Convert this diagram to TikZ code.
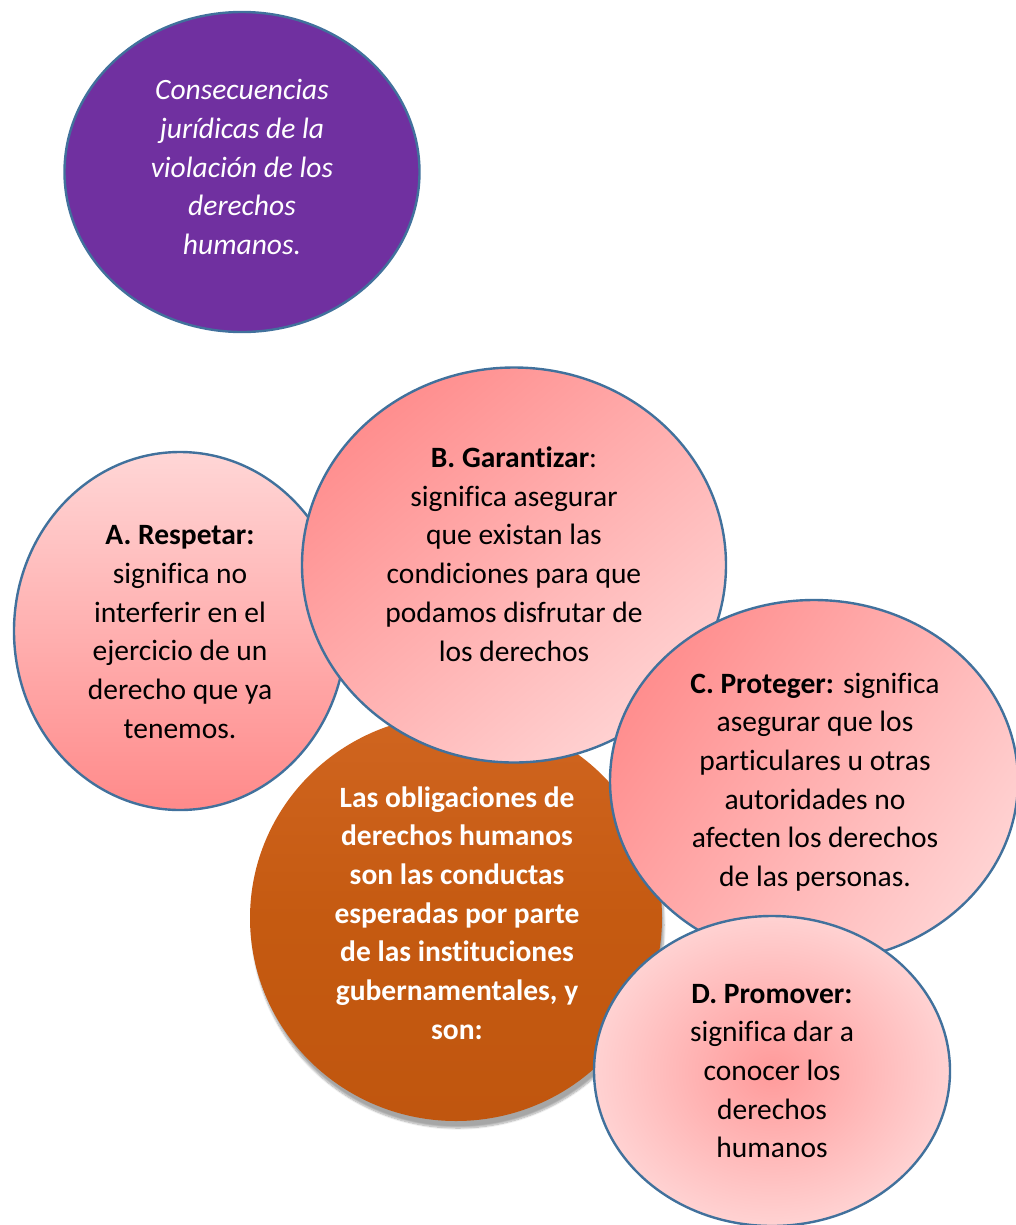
\documentclass[tikz,border=0pt]{standalone}
\usepackage{fontspec}
\setmainfont{Carlito}[Ligatures={NoCommon}]
\usetikzlibrary{shapes.geometric,shadows.blur}
\definecolor{bord}{HTML}{41719C}
\definecolor{purp}{HTML}{7030A0}
\definecolor{pdark}{HTML}{FF8E8E}
\definecolor{pdarkA}{HTML}{FF8A8A}
\definecolor{plight}{HTML}{FFD6D6}
\definecolor{plight2}{HTML}{FFD2D2}
\definecolor{pmid}{HTML}{FF9A9A}
\definecolor{orng}{HTML}{C55A11}
\definecolor{orngl}{HTML}{D06520}
\definecolor{orngd}{HTML}{C0560F}
\tikzset{
  bubble/.style={ellipse, draw=bord, line width=2.4bp, inner sep=0pt},
  txt/.style={align=center, font=\fontsize{29.5bp}{38.7bp}\selectfont, text=black, inner sep=0pt},
}
\begin{document}
\begin{tikzpicture}[x=1bp,y=-1bp]
\useasboundingbox (0,0) rectangle (1016,1225);
% purple
\node[bubble, fill=purp, minimum width=355bp, minimum height=320bp] (P) at (242,172) {};
\node[txt, text=white, font=\fontsize{29.5bp}{38.7bp}\selectfont\itshape] (Pt) at (242,167)
  {Consecuencias\\jurídicas de la\\violación de los\\derechos\\humanos.};
% A
\node[bubble, top color=plight, bottom color=pdarkA, minimum width=332bp, minimum height=358bp] (A) at (180,631) {};
\node[txt] (At) at (180,632) {\textbf{A. Respetar:}\\significa no\\interferir en el\\ejercicio de un\\derecho que ya\\tenemos.};
% orange
\node[ellipse, inner sep=0pt, minimum width=412bp, minimum height=406bp,
  top color=orngl, bottom color=orngd, middle color=orng,
  blur shadow={shadow xshift=2bp, shadow yshift=-7bp, shadow blur steps=10, shadow opacity=35}] (O) at (456,918) {};
\node[txt, text=white, font=\fontsize{29.5bp}{38.7bp}\selectfont\bfseries] (Ot) at (457,913)
  {Las obligaciones de\\derechos humanos\\son las conductas\\esperadas por parte\\de las instituciones\\gubernamentales, y\\son:};
% B
\node[bubble, top color=pdark, bottom color=plight2, shading angle=40, minimum width=424bp, minimum height=395bp] (B) at (514,565) {};
\node[txt] (Bt) at (514,554) {\textbf{B. Garantizar}:\\significa asegurar\\que existan las\\condiciones para que\\podamos disfrutar de\\los derechos};
% C
\node[bubble, top color=pdark, bottom color=plight2, shading angle=55, minimum width=408bp, minimum height=362bp] (C) at (814,781) {};
\node[txt] (Ct) at (815,782) {\textbf{C. Proteger:} significa\\asegurar que los\\particulares u otras\\autoridades no\\afecten los derechos\\de las personas.};
% D
\node[bubble, inner color=pmid, outer color=plight2, minimum width=356bp, minimum height=310bp] (D) at (772,1071) {};
\node[txt] (Dt) at (772,1071) {\textbf{D. Promover:}\\significa dar a\\conocer los\\derechos\\humanos};
\end{tikzpicture}
\end{document}
